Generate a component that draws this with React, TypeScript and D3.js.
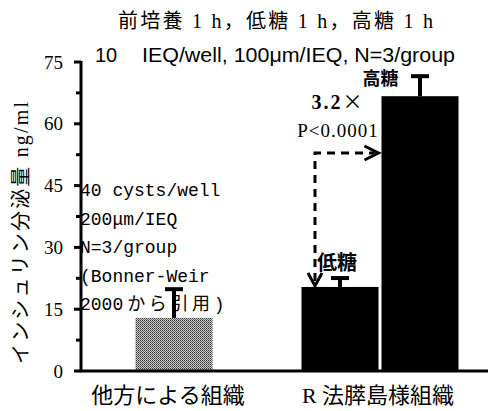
import React from 'react'
import {scaleLinear, scaleBand, range} from 'd3'

// values (ng/ml)
const groups = ['他方による組織', 'R 法膵島様組織']
const barGroup = ['他方による組織', 'R 法膵島様組織', 'R 法膵島様組織']
const barCond = ['', '低糖', '高糖']
const barMean = [12.9, 20.4, 66.7]
const barErr = [7.2, 2.4, 5.1]
const barFill = ['url(#dots)', '#000', '#000']

const yTicks = [0, 15, 30, 45, 60, 75]
const noteLines = ['40 cysts/well', '200μm/IEQ', 'N=3/group', '(Bonner-Weir']

const serif = '"Liberation Serif", "DejaVu Serif", "Noto Sans CJK JP", serif'
const sans = '"Liberation Sans", Arial, "Noto Sans CJK JP", sans-serif'
const mono = '"Liberation Mono", "Noto Sans CJK JP", monospace'
const cjk = '"Noto Sans CJK JP", sans-serif'

export default function App() {
  const width = 488
  const height = 411

  const y = scaleLinear().domain([0, 75]).range([371, 62])
  const x = scaleBand().domain(groups).range([71, 483])
  const axisX = 81

  // bar width within a group, and sub-bands for the second group
  const bw = 77
  const c2 = x(groups[1]) + x.bandwidth() / 2
  const sub = scaleBand()
    .domain(['低糖', '高糖'])
    .range([c2 - bw - 1.5, c2 + bw + 1.5])
    .paddingInner(0.0375)

  const barX = i =>
    barCond[i] === '' ? x(barGroup[i]) + x.bandwidth() / 2 - bw / 2 : sub(barCond[i])
  const barW = i => (barCond[i] === '' ? bw : sub.bandwidth())

  const minor = range(7.5, 75, 15)

  // arrow from low-glucose bar to high-glucose bar
  const lowC = sub('低糖') + sub.bandwidth() / 2
  const arrowX = lowC - 25
  const arrowY = 153
  const arrowEnd = sub('高糖') - 3

  return (
    <svg width={width} height={height} style={{display: 'block', position: 'absolute', left: 0, top: 0}}>
      <defs>
        <pattern id="dots" width="2" height="2" patternUnits="userSpaceOnUse">
          <rect width="2" height="2" fill="#c8c8c8" />
          <rect width="1" height="1" fill="#333" />
          <rect x="1" y="1" width="1" height="1" fill="#666" />
        </pattern>
      </defs>
      <rect width={width} height={height} fill="#fff" />

      {/* titles */}
      <text x={118} y={28} fontFamily={serif} fontSize={20} fill="#000" textLength={315} lengthAdjust="spacing">
        前培養 1 h，低糖 1 h，高糖 1 h
      </text>
      <text x={95} y={62} fontFamily={sans} fontSize={20} fill="#000">
        10
      </text>
      <text x={142} y={62} fontFamily={sans} fontSize={20} fill="#000" textLength={313} lengthAdjust="spacingAndGlyphs">
        IEQ/well, 100μm/IEQ, N=3/group
      </text>

      {/* y axis label */}
      <text
        transform={`translate(28, 233) rotate(-90)`}
        textAnchor="middle"
        fontFamily={serif}
        fontSize={20}
        fill="#000"
        textLength={262}
        lengthAdjust="spacing">
        インシュリン分泌量 ng/ml
      </text>

      {/* note text */}
      {noteLines.map((t, i) => (
        <text key={t} x={80} y={196 + i * 28.6} fontFamily={mono} fontSize={18} fill="#000">
          {t}
        </text>
      ))}
      <text x={80} y={196 + 4 * 28.6} fontFamily={mono} fontSize={18} fill="#000">
        2000
        <tspan fontFamily={cjk} dx={4} letterSpacing={3.6}>
          から引用
        </tspan>
        <tspan>)</tspan>
      </text>

      {/* bars */}
      {barMean.map((v, i) => (
        <rect key={i} x={barX(i)} y={y(v)} width={barW(i)} height={y(0) - y(v)} fill={barFill[i]} />
      ))}

      {/* error bars */}
      {barMean.map((v, i) => {
        const cx = barX(i) + barW(i) / 2
        return (
          <g key={'e' + i} stroke="#000" strokeWidth={4}>
            <line x1={cx} x2={cx} y1={y(v)} y2={y(v + barErr[i])} />
            <line x1={cx - 9} x2={cx + 9} y1={y(v + barErr[i]) + 1} y2={y(v + barErr[i]) + 1} />
          </g>
        )
      })}

      {/* axes */}
      <line x1={axisX} x2={axisX} y1={y(75) - 1} y2={y(0)} stroke="#000" strokeWidth={3} />
      <line x1={axisX - 1.5} x2={width} y1={y(0)} y2={y(0)} stroke="#000" strokeWidth={3} />
      {yTicks.map(t => (
        <g key={t}>
          <line x1={axisX - 7} x2={axisX} y1={y(t)} y2={y(t)} stroke="#000" strokeWidth={3} />
          <text x={63} y={y(t)} dy="0.35em" textAnchor="end" fontFamily={serif} fontSize={19} fill="#000">
            {t}
          </text>
        </g>
      ))}
      {minor.map(t => (
        <line key={t} x1={axisX - 5} x2={axisX} y1={y(t)} y2={y(t)} stroke="#000" strokeWidth={3} />
      ))}

      {/* category labels */}
      {groups.map((g, i) => (
        <text
          key={g}
          x={x(g) + x.bandwidth() / 2 - (i === 0 ? 6 : 2)}
          y={403}
          textAnchor="middle"
          fontFamily={serif}
          fontSize={22}
          fill="#000">
          {g}
        </text>
      ))}

      {/* condition labels */}
      <text x={lowC - 3} y={270} textAnchor="middle" fontFamily={cjk} fontWeight="bold" fontSize={20} fill="#000">
        低糖
      </text>
      <text x={sub('高糖') - 1} y={85} textAnchor="middle" fontFamily={cjk} fontWeight="bold" fontSize={18} fill="#000">
        高糖
      </text>

      {/* significance */}
      <text x={lowC - 3} y={109} textAnchor="middle" fontFamily={serif} fontWeight="bold" fontSize={20} fill="#000">
        <tspan letterSpacing={2}>3.2</tspan>
        <tspan fontFamily={cjk} fontWeight="normal" fontSize={20}>×</tspan>
      </text>
      <text x={lowC - 2} y={137} textAnchor="middle" fontFamily={serif} fontSize={19} letterSpacing={1} fill="#000">
        P&lt;0.0001
      </text>

      {/* dashed arrow */}
      <g stroke="#000" strokeWidth={3} fill="none">
        <path d={`M${arrowX},${y(barMean[1]) - 6} V${arrowY} H${arrowEnd - 4}`} strokeDasharray="8,6" />
        <path d={`M${arrowEnd - 14},${arrowY - 7} L${arrowEnd},${arrowY} L${arrowEnd - 14},${arrowY + 7}`} />
        <path d={`M${arrowX - 7},${y(barMean[1]) - 14} L${arrowX},${y(barMean[1]) - 1} L${arrowX + 7},${y(barMean[1]) - 14}`} />
      </g>
    </svg>
  )
}
